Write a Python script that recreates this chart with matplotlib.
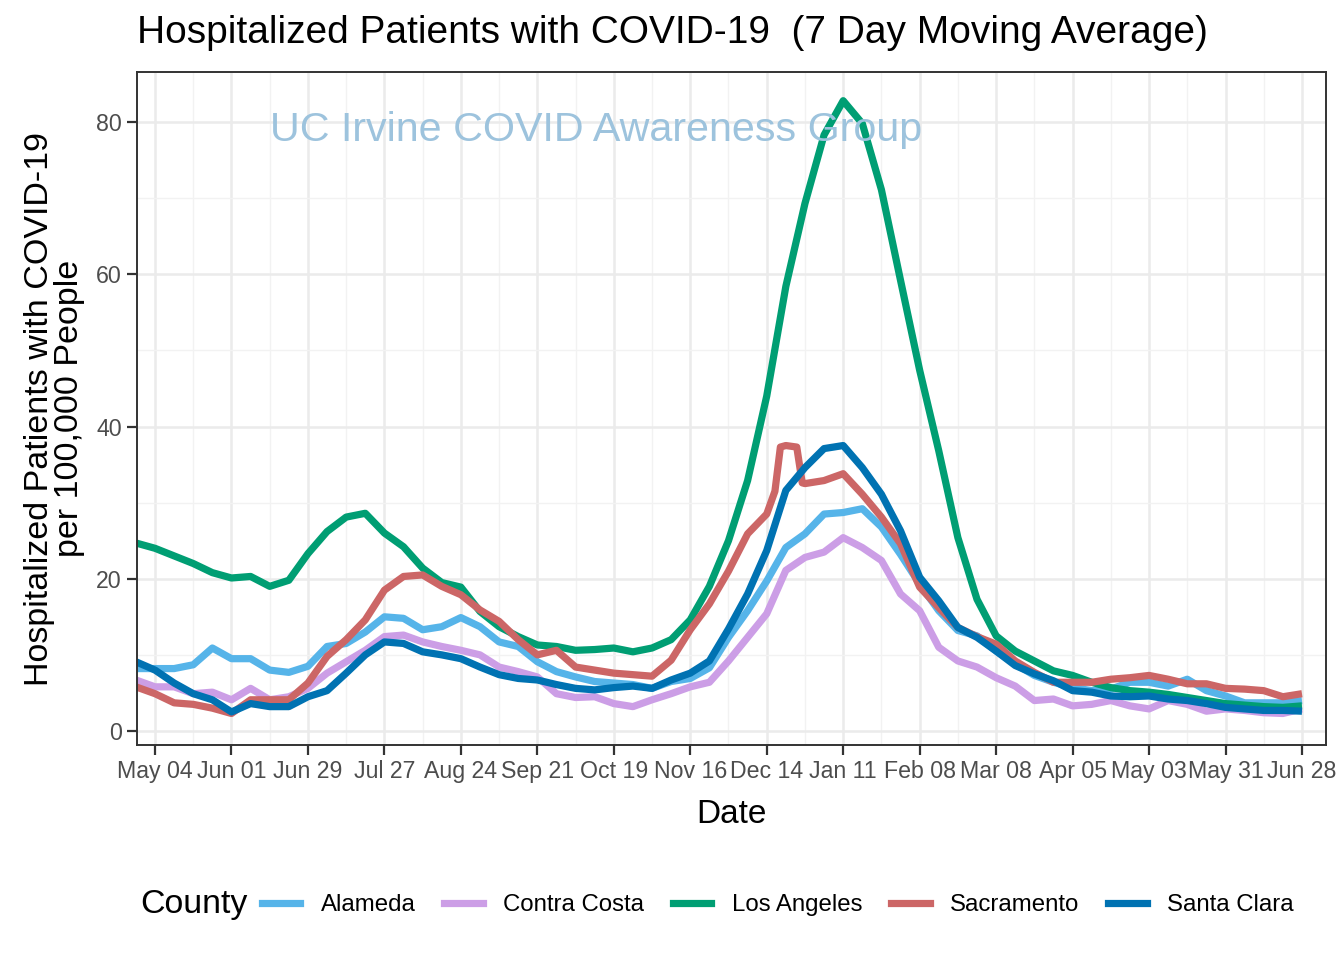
import numpy as np
import pandas as pd
import matplotlib
matplotlib.use('Agg')
from matplotlib import pyplot as plt
import matplotlib.dates as mdates
from matplotlib.lines import Line2D

plt.rcParams['font.family'] = ['Liberation Sans', 'DejaVu Sans']

# weekly points, Mondays from Apr 27 2020 to Jun 28 2021
dates = pd.date_range('2020-04-27', '2021-06-28', freq='7D')

alameda = [8.2, 8.2, 8.2, 8.7, 10.9, 9.5, 9.5, 8.0, 7.7, 8.5, 11.1, 11.5, 13.0, 15.0, 14.8, 13.3,
           13.7, 14.9, 13.7, 11.7, 11.1, 9.1, 7.8, 7.1, 6.5, 6.3, 6.1, 5.6, 6.5, 6.9, 8.3, 12.3,
           15.8, 19.7, 24.1, 25.9, 28.5, 28.7, 29.2, 26.8, 23.2, 19.3, 15.8, 13.2, 12.5, 10.5, 8.8,
           7.3, 6.4, 5.7, 5.3, 5.5, 6.4, 6.4, 5.9, 6.8, 5.3, 4.6, 3.7, 3.7, 3.7, 4.0]
contra_costa = [6.7, 5.8, 5.8, 4.9, 5.1, 4.1, 5.6, 4.1, 4.5, 5.6, 7.6, 9.1, 10.6, 12.4, 12.6, 11.7,
                11.1, 10.6, 10.0, 8.4, 7.8, 7.1, 4.9, 4.4, 4.5, 3.6, 3.2, 4.1, 4.9, 5.8, 6.4, 9.2,
                12.3, 15.4, 21.1, 22.8, 23.5, 25.4, 24.1, 22.4, 18.0, 15.8, 11.0, 9.2, 8.4, 7.0, 5.9,
                4.0, 4.2, 3.3, 3.5, 4.0, 3.3, 2.9, 4.0, 3.5, 2.6, 2.9, 2.7, 2.4, 2.3, 2.9]
los_angeles = [24.7, 24.0, 23.0, 22.0, 20.8, 20.1, 20.3, 19.0, 19.8, 23.3, 26.2, 28.1, 28.6, 26.0,
               24.2, 21.4, 19.5, 18.9, 15.7, 13.7, 12.4, 11.3, 11.1, 10.6, 10.7, 10.9, 10.4, 10.9,
               12.0, 14.6, 19.0, 25.0, 32.9, 44.0, 58.4, 69.3, 78.3, 82.8, 79.8, 71.1, 59.2, 47.4,
               36.8, 25.4, 17.3, 12.5, 10.5, 9.2, 7.9, 7.3, 6.4, 5.7, 5.3, 5.1, 4.8, 4.4, 4.0, 3.6,
               3.4, 3.2, 3.1, 3.3]
sacramento = [5.8, 4.9, 3.7, 3.5, 3.0, 2.3, 4.1, 4.1, 4.1, 6.3, 9.8, 12.0, 14.6, 18.5, 20.3, 20.5,
              19.0, 17.9, 15.9, 14.4, 12.0, 10.0, 10.6, 8.4, 8.0, 7.6, 7.4, 7.2, 9.3, 13.3, 16.7,
              21.0, 25.9, 28.5, 37.5, 32.5, 32.9, 33.8, 31.1, 28.1, 24.6, 18.9, 16.2, 13.6, 12.4,
              11.4, 9.2, 7.7, 6.4, 6.4, 6.4, 6.8, 7.0, 7.3, 6.8, 6.2, 6.2, 5.6, 5.5, 5.3, 4.5, 4.9]
santa_clara = [9.1, 8.0, 6.3, 4.9, 4.1, 2.5, 3.6, 3.2, 3.2, 4.5, 5.3, 7.6, 10.0, 11.7, 11.5, 10.4,
               10.0, 9.5, 8.4, 7.4, 6.9, 6.7, 6.1, 5.6, 5.4, 5.7, 5.9, 5.6, 6.7, 7.6, 9.2, 13.4,
               18.0, 23.7, 31.6, 34.6, 37.1, 37.5, 34.6, 31.1, 26.3, 20.2, 17.1, 13.6, 12.3, 10.5,
               8.6, 7.5, 6.6, 5.3, 5.1, 4.6, 4.5, 4.6, 4.2, 4.0, 3.6, 3.1, 2.9, 2.7, 2.7, 2.6]

# the short Sacramento jump around Christmas
sac_extra_dates = pd.to_datetime(['2020-12-17', '2020-12-19', '2020-12-25', '2020-12-27'])
sac_extra_vals = [31.5, 37.3, 37.3, 32.6]

counties = ['Alameda', 'Contra Costa', 'Los Angeles', 'Sacramento', 'Santa Clara']
colors = ['#56B4E9', '#CC9EE6', '#009E73', '#CC6666', '#0072B2']

sac = pd.Series(sacramento, index=dates)
sac = pd.concat([sac, pd.Series(sac_extra_vals, index=sac_extra_dates)]).sort_index()

series = [(dates, alameda), (dates, contra_costa), (dates, los_angeles),
          (sac.index, sac.values), (dates, santa_clara)]

fig = plt.figure(figsize=(13.44, 9.6), dpi=100)
ax = fig.add_axes([137/1344, 1 - 745/960, (1326 - 137)/1344, (745 - 72)/960])

for (x, y), c, name in zip(series, colors, counties):
    ax.plot(x, y, color=c, lw=5.2, label=name, solid_joinstyle='round',
            solid_capstyle='butt')

major = pd.date_range('2020-05-04', '2021-06-28', freq='28D')
minor = pd.date_range('2020-04-20', '2021-07-12', freq='28D')
ax.set_xticks(major)
ax.set_xticklabels([d.strftime('%b %d') for d in major])
ax.set_xticks(minor, minor=True)
ax.set_yticks([0, 20, 40, 60, 80])
ax.set_yticks([10, 30, 50, 70], minor=True)

# limits after the ticks, set_xticks widens the view otherwise
base = mdates.date2num(pd.Timestamp('2020-05-04'))
ax.set_xlim(base - 6.6, base + 428.8)
ax.set_ylim(-1.84, 86.57)

ax.grid(True, which='major', color='#EBEBEB', lw=1.8)
ax.grid(True, which='minor', color='#F2F2F2', lw=1.0)
ax.set_axisbelow(True)
ax.tick_params(which='major', length=7, width=1.6, color='#333333',
               labelsize=16.7, labelcolor='#4D4D4D', pad=4)
ax.tick_params(which='minor', length=0)
for s in ax.spines.values():
    s.set_color('#333333')
    s.set_linewidth(1.4)

ax.set_xlabel('Date', fontsize=24, labelpad=11)
ax.set_ylabel('Hospitalized Patients with COVID-19\nper 100,000 People', fontsize=24.5,
              labelpad=8, linespacing=0.95)

fig.text(270/1344, 1 - 130/960, 'UC Irvine COVID Awareness Group', fontsize=29.7,
         color='#9DC3DD', va='center', ha='left')

fig.text(137/1344, 1 - 33/960, 'Hospitalized Patients with COVID-19  (7 Day Moving Average)',
         fontsize=28, va='center', ha='left')

fig.text(140/1344, 1 - 905/960, 'County', fontsize=24.4, va='center', ha='left')
handles = [Line2D([0], [0], color=c, lw=5.2) for c in colors]
fig.legend(handles, counties, loc='center left', bbox_to_anchor=(240/1344, 1 - 905/960),
           ncol=5, frameon=False, fontsize=17.3, handlelength=1.6, columnspacing=1.2,
           handletextpad=0.85)

fig.savefig('out.png', dpi=100)
